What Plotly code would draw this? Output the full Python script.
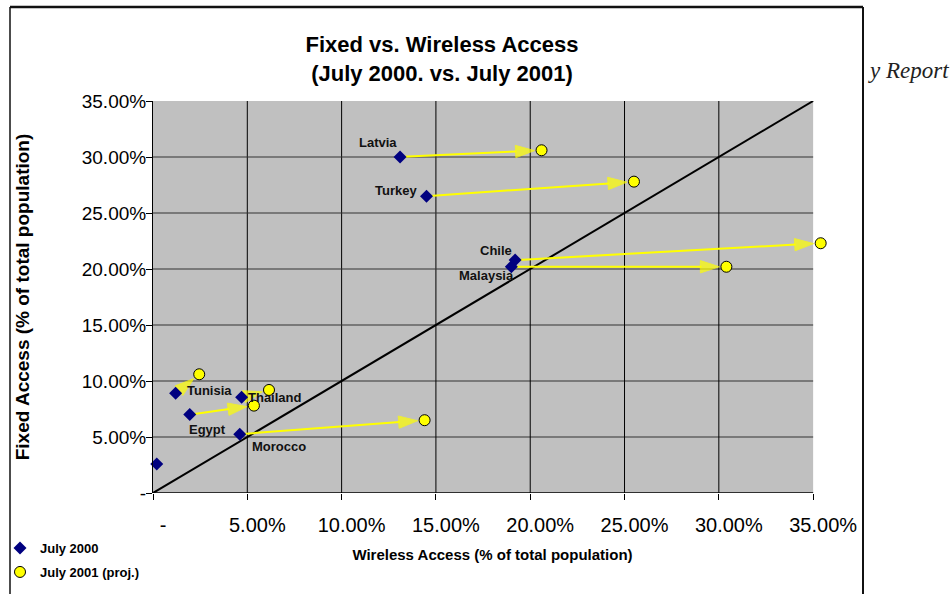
import math
import plotly.graph_objects as go

# Wireless (x) and fixed (y) access, % of total population
countries = ["Latvia", "Turkey", "Chile", "Malaysia", "Tunisia", "Thailand", "Egypt", "Morocco", ""]
wireless_2000 = [13.1, 14.5, 19.2, 19.0, 1.2, 4.7, 1.95, 4.6, 0.2]
fixed_2000 = [30.0, 26.5, 20.8, 20.2, 8.9, 8.55, 7.0, 5.25, 2.6]
wireless_2001 = [20.6, 25.5, 35.4, 30.4, 2.45, 6.15, 5.35, 14.4, None]
fixed_2001 = [30.6, 27.8, 22.3, 20.2, 10.6, 9.2, 7.8, 6.5, None]

tick_vals = [0, 5, 10, 15, 20, 25, 30, 35]
tick_text = ["-", "5.00%", "10.00%", "15.00%", "20.00%", "25.00%", "30.00%", "35.00%"]
grid_vals = [5, 10, 15, 20, 25, 30]
AXIS_MAX = 35
X_VIEW_MAX = 36  # a little room past the last tick for points beyond 35%

# label offsets (px) from each July 2000 marker
label_dx = [-22, -30, -19, -25, 34, 33, 18, 39, 0]
label_dy = [15, 6, 10, -9, 3, 0, -15, -12, 0]

FONT = "Liberation Sans, Arial, sans-serif"
W, H = 952, 594
L, T, B = 153, 101, 101
X35 = 813  # pixel column of the 35% tick
R = W - round(L + (X35 - L) * X_VIEW_MAX / AXIS_MAX)
PW, PH = W - L - R, H - T - B
KX, KY = PW / X_VIEW_MAX, PH / AXIS_MAX  # px per percentage point


def px(xp):
    return (xp - L) / PW


def py(yp):
    return (H - B - yp) / PH


def pull_back(x0, y0, x1, y1, gap_px):
    """Point gap_px pixels short of (x1, y1) on the way from (x0, y0)."""
    dx, dy = (x1 - x0) * KX, (y1 - y0) * KY
    d = math.hypot(dx, dy)
    return x1 - dx / d * gap_px / KX, y1 - dy / d * gap_px / KY


fig = go.Figure()

# grey plotting area and grid, limited to 0-35%
fig.add_shape(type="rect", xref="x", yref="y", x0=0, y0=0, x1=AXIS_MAX, y1=AXIS_MAX,
              fillcolor="#C0C0C0", line=dict(width=0), layer="below")
for g in grid_vals:
    fig.add_shape(type="line", xref="x", yref="y", x0=g, x1=g, y0=0, y1=AXIS_MAX,
                  line=dict(color="black", width=1), layer="below")
    fig.add_shape(type="line", xref="x", yref="y", x0=0, x1=AXIS_MAX, y0=g, y1=g,
                  line=dict(color="#333333", width=1.2), layer="below")
fig.add_shape(type="line", xref="x", yref="y", x0=0, x1=AXIS_MAX, y0=0, y1=0,
              line=dict(color="black", width=1.5), layer="below")

# parity line
fig.add_trace(go.Scatter(
    x=[0, AXIS_MAX], y=[0, AXIS_MAX], mode="lines",
    line=dict(color="black", width=2), showlegend=False, hoverinfo="skip",
))

# movement arrows from the 2000 position to the 2001 projection
for i, name in enumerate(countries):
    if wireless_2001[i] is None:
        continue
    x0, y0 = wireless_2000[i], fixed_2000[i]
    x1, y1 = wireless_2001[i], fixed_2001[i]
    sx, sy = pull_back(x1, y1, x0, y0, 3)
    ex, ey = pull_back(x0, y0, x1, y1, 7)
    fig.add_trace(go.Scatter(
        x=[sx, ex], y=[sy, ey], mode="lines+markers",
        line=dict(color="#FFFF00", width=2),
        marker=dict(symbol=["circle", "arrow"], size=[0, 20], color="#FFFF00",
                    angleref="previous", line=dict(color="#FFFF00", width=1)),
        cliponaxis=False, showlegend=False, hoverinfo="skip",
    ))

fig.add_trace(go.Scatter(
    x=wireless_2000, y=fixed_2000, mode="markers", name="<b>July 2000</b>",
    marker=dict(symbol="diamond", size=10, color="#000080"),
    cliponaxis=False, legend="legend",
))
fig.add_trace(go.Scatter(
    x=[v for v in wireless_2001 if v is not None],
    y=[v for v in fixed_2001 if v is not None],
    mode="markers", name="<b>July 2001 (proj.)</b>",
    marker=dict(symbol="circle", size=11, color="#FFFF00", line=dict(color="black", width=1)),
    cliponaxis=False, legend="legend2",
))

annotations = []
for i, name in enumerate(countries):
    if name:
        annotations.append(dict(
            x=wireless_2000[i], y=fixed_2000[i], xref="x", yref="y",
            text="<b>%s</b>" % name, showarrow=False,
            xshift=label_dx[i], yshift=label_dy[i],
            font=dict(family=FONT, size=13, color="#111111"),
        ))

annotations.append(dict(
    x=px(866), y=py(70), xref="paper", yref="paper", xanchor="left", yanchor="middle",
    text="<i>y Report</i>", showarrow=False,
    font=dict(family="Liberation Serif, serif", size=23, color="#222222"),
))
fig.update_layout(annotations=annotations)

# outer chart frame
frame = dict(color="#111111")
fig.add_shape(type="line", xref="paper", yref="paper", x0=px(10), x1=px(863), y0=py(7), y1=py(7),
              line=dict(width=2.5, **frame))
fig.add_shape(type="line", xref="paper", yref="paper", x0=px(10), x1=px(10), y0=py(7), y1=py(600),
              line=dict(width=1.5, **frame))
fig.add_shape(type="line", xref="paper", yref="paper", x0=px(863), x1=px(863), y0=py(7), y1=py(600),
              line=dict(width=2, **frame))

fig.update_layout(
    width=W, height=H,
    margin=dict(l=L, r=R, t=T, b=B, autoexpand=False),
    paper_bgcolor="white", plot_bgcolor="white",
    font=dict(family=FONT, color="black"),
    title=dict(
        text="<b>Fixed vs. Wireless Access<br>(July 2000. vs. July 2001)</b>",
        x=442 / W, xref="container", xanchor="center",
        y=1 - 52 / H, yref="container", yanchor="middle",
        font=dict(family=FONT, size=22, color="black"),
    ),
    xaxis=dict(
        range=[0, X_VIEW_MAX], tickvals=tick_vals, ticktext=tick_text,
        showgrid=False, showline=False, automargin=False,
        ticks="outside", ticklen=6, tickcolor="black",
        tickfont=dict(family=FONT, size=20, color="black"),
        ticklabelstandoff=8, ticklabelshift=10,
        zeroline=False,
        title=dict(text="<b>Wireless Access (% of total population)</b>",
                   font=dict(family=FONT, size=15, color="black"), standoff=14),
    ),
    yaxis=dict(
        range=[0, AXIS_MAX], tickvals=tick_vals, ticktext=tick_text,
        showgrid=False, automargin=False,
        showline=True, linecolor="black", linewidth=1,
        ticks="outside", ticklen=6, tickcolor="black",
        tickfont=dict(family=FONT, size=19, color="black"),
        ticklabelstandoff=-4,
        zeroline=False,
        title=dict(text="<b>Fixed Access (% of total population)</b>",
                   font=dict(family=FONT, size=19, color="black"), standoff=47),
    ),
    legend=dict(x=px(0), y=py(548), xanchor="left", yanchor="middle",
                bgcolor="rgba(0,0,0,0)", font=dict(family=FONT, size=13, color="black")),
    legend2=dict(x=px(0), y=py(572), xanchor="left", yanchor="middle",
                 bgcolor="rgba(0,0,0,0)", font=dict(family=FONT, size=13, color="black")),
    showlegend=True,
)

fig.write_html("out.html")
